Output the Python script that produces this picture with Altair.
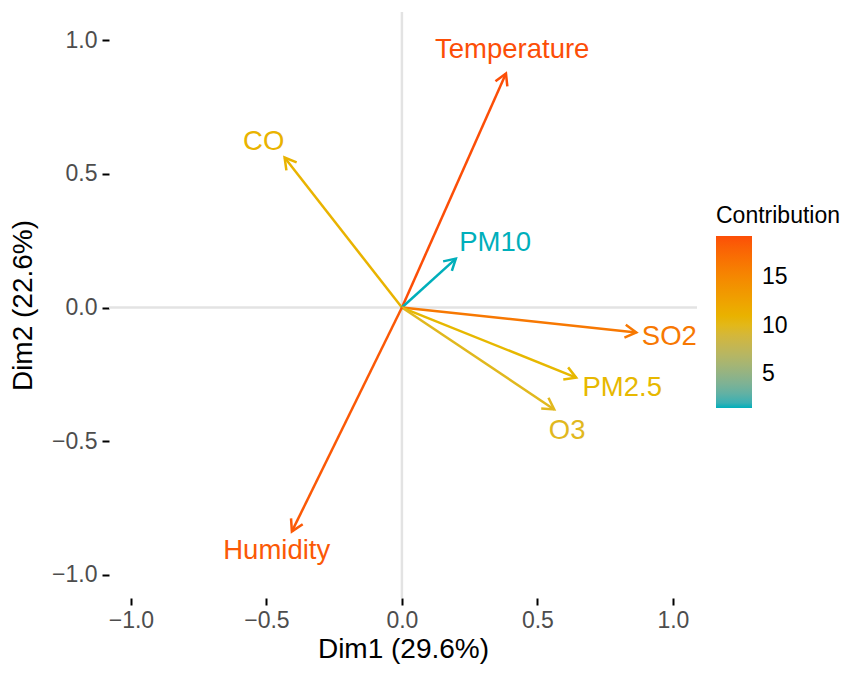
import math
import altair as alt
import pandas as pd

# ---- data ----
variables = ["Temperature", "CO", "PM10", "SO2", "PM2.5", "O3", "Humidity"]
dim1 = [0.384, -0.433, 0.199, 0.865, 0.643, 0.562, -0.406]
dim2 = [0.875, 0.561, 0.183, -0.093, -0.262, -0.381, -0.837]
contrib = [19.27, 10.9, 1.46, 16.3, 10.4, 9.9, 18.6]
label_x = [0.407, -0.510, 0.344, 0.987, 0.813, 0.610, -0.462]
label_y = [0.964, 0.619, 0.243, -0.112, -0.299, -0.460, -0.912]

x_ticks = [-1.0, -0.5, 0.0, 0.5, 1.0]
y_ticks = [-1.0, -0.5, 0.0, 0.5, 1.0]
legend_ticks = [5, 10, 15]

FONT = "Liberation Sans"
X_DOMAIN = [-1.081, 1.089]
Y_DOMAIN = [-1.086, 1.105]
W, H = 588, 586

df = pd.DataFrame({
    "var": variables,
    "x": dim1,
    "y": dim2,
    "contrib": contrib,
    "lx": label_x,
    "ly": label_y,
})
df["x0"] = 0.0
df["y0"] = 0.0
# arrowhead rotation (clockwise from up, screen space)
px_x = W / (X_DOMAIN[1] - X_DOMAIN[0])
px_y = H / (Y_DOMAIN[1] - Y_DOMAIN[0])
df["angle"] = [
    (math.degrees(math.atan2(a * px_x, b * px_y)) + 360) % 360 for a, b in zip(dim1, dim2)
]

cmin, cmax = min(contrib), max(contrib)
color_scale = alt.Scale(
    domain=[cmin, (cmin + cmax) / 2, cmax],
    range=["#00AFBB", "#E7B800", "#FC4E07"],
    interpolate="lab",
)

xs = alt.Scale(domain=X_DOMAIN, nice=False, zero=False)
ys = alt.Scale(domain=Y_DOMAIN, nice=False, zero=False)

axis_common = dict(
    grid=False, domain=False, tickColor="black", tickWidth=2, tickSize=7,
    labelColor="#4D4D4D", labelFontSize=23, labelFont=FONT,
    titleFont=FONT, titleFontSize=28, titleFontWeight="normal", titleColor="black",
    format=".1f",
)

x_enc = alt.X("x:Q", scale=xs, axis=alt.Axis(values=x_ticks, title="Dim1 (29.6%)",
                                             labelPadding=4, titlePadding=3, **axis_common))
y_enc = alt.Y("y:Q", scale=ys, axis=alt.Axis(values=y_ticks, title="Dim2 (22.6%)",
                                             labelPadding=5, titlePadding=14, **axis_common))

legend = alt.Legend(
    type="gradient", direction="vertical",
    title="Contribution", orient="none", legendX=607, legendY=193,
    titleFont=FONT, titleFontSize=23, titleFontWeight="normal", titleColor="black",
    titlePadding=8, gradientLength=172, gradientThickness=36, gradientStrokeWidth=0,
    labelFont=FONT, labelFontSize=23, labelColor="black", labelOffset=10,
    values=legend_ticks,
)
color_legend = alt.Color("contrib:Q", scale=color_scale, legend=legend)
color_plain = alt.Color("contrib:Q", scale=color_scale, legend=None)

zero_df = pd.DataFrame({"z": [0.0]})
vline = alt.Chart(zero_df).mark_rule(color="#E3E3E3", strokeWidth=2.5).encode(x=alt.X("z:Q", scale=xs))
hline = alt.Chart(zero_df).mark_rule(color="#E3E3E3", strokeWidth=2.5).encode(y=alt.Y("z:Q", scale=ys))

base = alt.Chart(df)
segments = base.mark_rule(strokeWidth=2.5).encode(
    x=alt.X("x0:Q", scale=xs),
    y=alt.Y("y0:Q", scale=ys),
    x2="x:Q",
    y2="y:Q",
    color=color_plain,
)
heads = base.mark_point(
    shape="M -0.5 0.866 L 0 0 L 0.5 0.866",
    filled=False, size=676, strokeWidth=2.5, opacity=1,
).encode(
    x=x_enc,
    y=y_enc,
    angle=alt.Angle("angle:Q", scale=None),
    color=color_plain,
)
labels = base.mark_text(font=FONT, fontSize=27.5, baseline="middle", align="center").encode(
    x=alt.X("lx:Q", scale=xs),
    y=alt.Y("ly:Q", scale=ys),
    text="var:N",
    color=color_legend,
)

chart = (
    alt.layer(vline, hline, segments, heads, labels)
    .resolve_legend(color="independent")
    .properties(
        width=W, height=H,
        autosize=alt.AutoSizeParams(type="none"),
        padding={"left": 101, "top": 4, "right": 144, "bottom": 67},
        background="white",
    )
    .configure_view(stroke=None)
)

chart.save("out.html", embed_options={"renderer": "svg", "actions": False})
